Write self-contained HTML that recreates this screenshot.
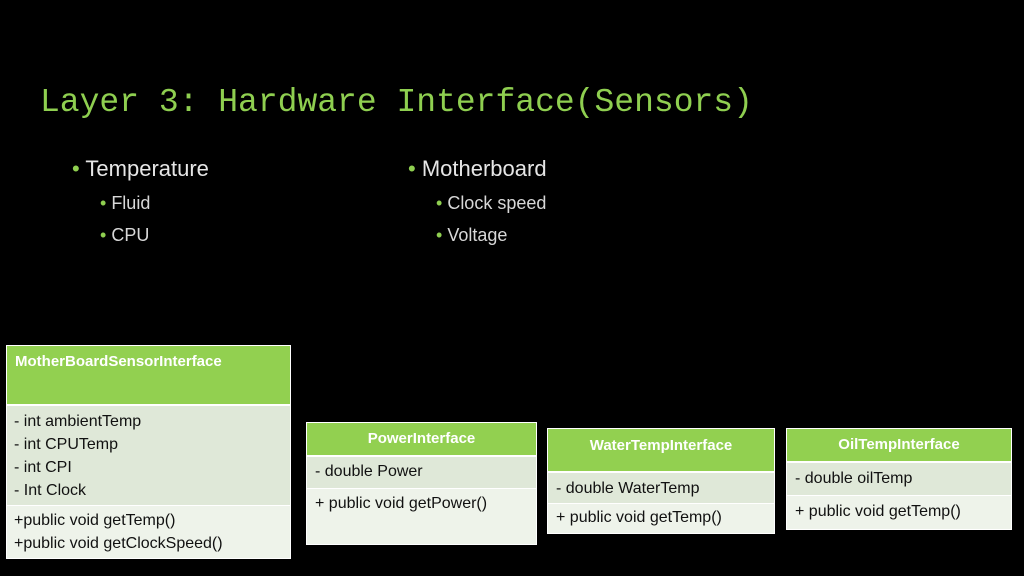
<!DOCTYPE html>
<html><head><meta charset="utf-8"><style>
*{margin:0;padding:0;box-sizing:border-box}
body{width:1024px;height:576px;background:#000;position:relative;overflow:hidden;font-family:"Liberation Sans",sans-serif}
.a{position:absolute;white-space:nowrap}
.t{font-family:"Liberation Mono",monospace;font-size:33px;color:#8fcf50;left:40px;top:84px}
.b1{font-size:22px;color:#e6e6e6}
.b2{font-size:18px;color:#d8d8d8}
.dot{color:#8fcf50}
.box{position:absolute;border:1px solid #fff;background:#fff}
.h{background:#92d050;color:#fff;font-weight:bold;font-size:15px;border-bottom:2px solid #fff}
.r1{background:#dfe8d8;color:#111;font-size:16px;line-height:23px;border-bottom:1px solid #fff}
.r2{background:#eef3ea;color:#111;font-size:16px;line-height:23px}
</style></head><body>
<div class="a t">Layer 3: Hardware Interface(Sensors)</div>
<div class="a b1" style="left:72px;top:156px"><span class="dot">•</span> Temperature</div>
<div class="a b2" style="left:100px;top:193px"><span class="dot">•</span> Fluid</div>
<div class="a b2" style="left:100px;top:225px"><span class="dot">•</span> CPU</div>
<div class="a b1" style="left:408px;top:156px"><span class="dot">•</span> Motherboard</div>
<div class="a b2" style="left:436px;top:193px"><span class="dot">•</span> Clock speed</div>
<div class="a b2" style="left:436px;top:225px"><span class="dot">•</span> Voltage</div>

<div class="box" style="left:6px;top:345px;width:285px;height:214px">
<div class="h" style="height:60px;padding:7px 8px">MotherBoardSensorInterface</div>
<div class="r1" style="height:100px;padding:4px 7px">- int ambientTemp<br>- int CPUTemp<br>- int CPI<br>- Int Clock</div>
<div class="r2" style="height:52px;padding:3px 7px">+public void getTemp()<br>+public void getClockSpeed()</div>
</div>

<div class="box" style="left:306px;top:422px;width:231px;height:123px">
<div class="h" style="height:34px;text-align:center;padding-top:7px">PowerInterface</div>
<div class="r1" style="height:32px;padding:3px 8px">- double Power</div>
<div class="r2" style="height:55px;padding:3px 8px">+ public void getPower()</div>
</div>

<div class="box" style="left:547px;top:428px;width:228px;height:106px">
<div class="h" style="height:44px;text-align:center;padding-top:8px">WaterTempInterface</div>
<div class="r1" style="height:31px;padding:4px 8px">- double WaterTemp</div>
<div class="r2" style="height:29px;padding:2px 8px">+ public void getTemp()</div>
</div>

<div class="box" style="left:786px;top:428px;width:226px;height:102px">
<div class="h" style="height:34px;text-align:center;padding-top:7px">OilTempInterface</div>
<div class="r1" style="height:33px;padding:4px 8px">- double oilTemp</div>
<div class="r2" style="height:33px;padding:4px 8px">+ public void getTemp()</div>
</div>
</body></html>
